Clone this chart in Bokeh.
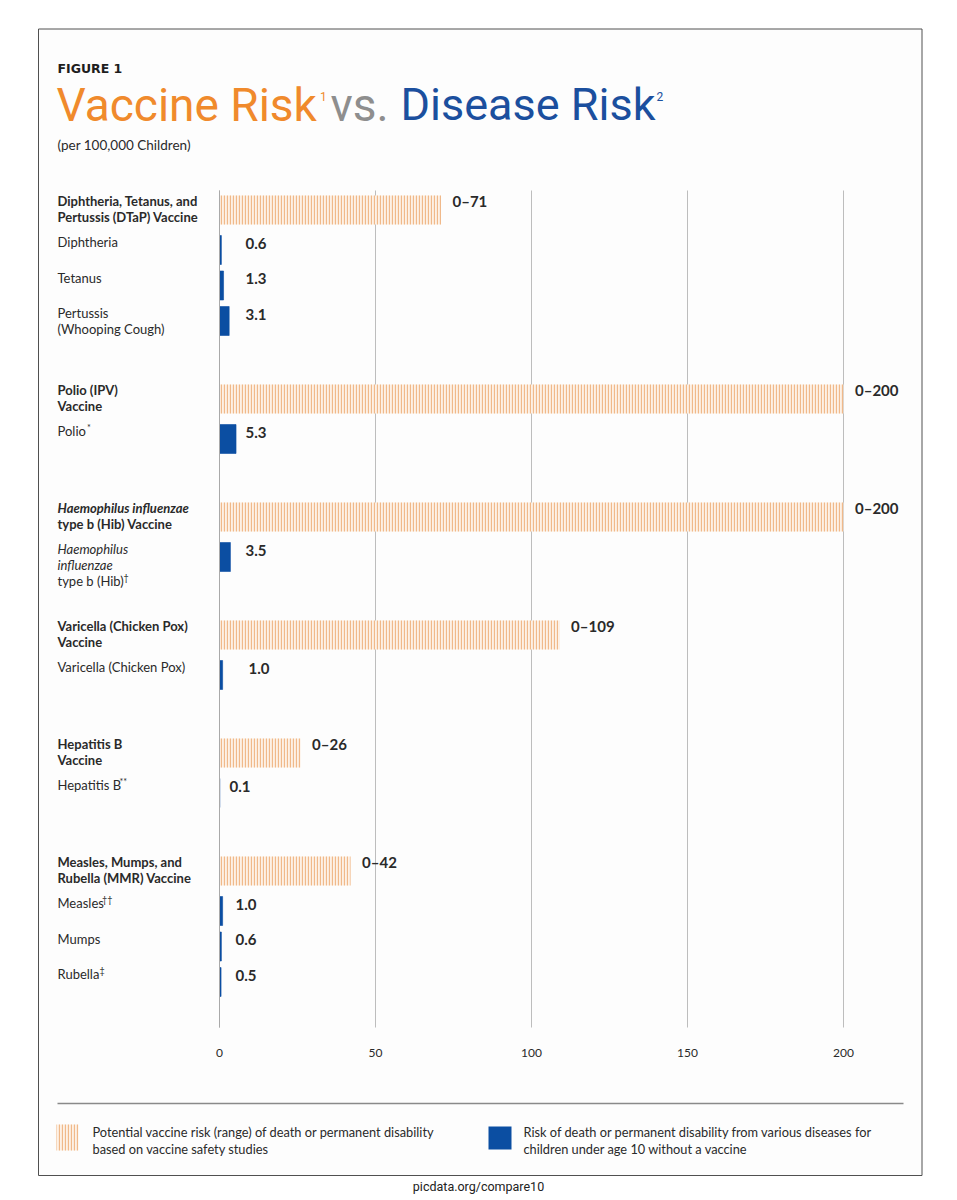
from bokeh.plotting import figure
from bokeh.models import Range1d, ColumnDataSource
from bokeh.embed import file_html
from bokeh.resources import INLINE
from bokeh.core.properties import value, field

# ---------------- data ----------------
vaccines = [
    "Diphtheria, Tetanus, and\nPertussis (DTaP) Vaccine",
    "Polio (IPV)\nVaccine",
    "Haemophilus influenzae\ntype b (Hib) Vaccine",
    "Varicella (Chicken Pox)\nVaccine",
    "Hepatitis B\nVaccine",
    "Measles, Mumps, and\nRubella (MMR) Vaccine",
]
vaccine_risk_max = [71, 200, 200, 109, 26, 42]
diseases = [
    ["Diphtheria", "Tetanus", "Pertussis\n(Whooping Cough)"],
    ["Polio"],
    ["Haemophilus\ninfluenzae\ntype b (Hib)"],
    ["Varicella (Chicken Pox)"],
    ["Hepatitis B"],
    ["Measles", "Mumps", "Rubella"],
]
disease_marks = [["", "", ""], ["*"], ["\u2020"], [""], ["**"], ["\u2020\u2020", "", "\u2021"]]
disease_risk = [[0.6, 1.3, 3.1], [5.3], [3.5], [1.0], [0.1], [1.0, 0.6, 0.5]]
x_ticks = [0, 50, 100, 150, 200]
italic_lines = {"Haemophilus influenzae", "Haemophilus", "influenzae"}

legend_vaccine = ["Potential vaccine risk (range) of death or permanent disability",
                  "based on vaccine safety studies"]
legend_disease = ["Risk of death or permanent disability from various diseases for",
                  "children under age 10 without a vaccine"]

# ---------------- layout / style ----------------
W, H = 950, 1196
ZERO_PX = 219.0
PX_PER_UNIT = 3.12


def X(px):
    return (px - ZERO_PX) / PX_PER_UNIT


BAR_H = 29
FIRST_TOP = 195
VAC_TO_DIS = 40
DIS_TO_DIS = 35.5
DIS_TO_VAC = 78
blue_label_px = [245, 245, 245, 248, 229, 235]
mark_px = [[0, 0, 0], [86.5], [123], [0], [119], [101.5, 0, 99]]

ORANGE = "#f08a2c"
GRAY = "#8e8e8e"
BLUE = "#1b4f9e"
BAR_BLUE = "#0b4ea2"
TXT = "#2a2a2a"
FONT = value("Lato")

p = figure(width=W, height=H, x_range=Range1d(X(0), X(W)),
           y_range=Range1d(H, 0), output_backend="svg", toolbar_location=None,
           x_axis_location=None, y_axis_location=None, min_border=0)
p.grid.visible = False
p.outline_line_color = None
p.background_fill_color = "white"
p.border_fill_color = "white"

# outer frame
p.quad(left=[X(38)], right=[X(921.5)], top=[28.5], bottom=[1175], fill_color="#fdfdfd",
       line_color="#505050", line_width=1)

# grid lines
p.segment(x0=x_ticks, x1=x_ticks, y0=[190] * len(x_ticks), y1=[1027] * len(x_ticks),
          line_color="#bdbdbd", line_width=1)
p.text(x=x_ticks, y=[1052] * len(x_ticks), text=[str(t) for t in x_ticks],
       text_font=FONT, text_font_size="12px", text_color=TXT, text_align="center",
       text_baseline="middle")

# compute rows
vac_top, dis_top, dis_val, dis_lab_x = [], [], [], []
lab_x, lab_y, lab_t, lab_s = [], [], [], []
mk_x, mk_y, mk_t = [], [], []
y = FIRST_TOP
for g, vname in enumerate(vaccines):
    vac_top.append(y)
    for k, line in enumerate(vname.split("\n")):
        lab_x.append(X(57)); lab_y.append(y + 5.5 + 16 * k); lab_t.append(line)
        lab_s.append("bold italic" if line in italic_lines else "bold")
    y += VAC_TO_DIS
    for d, dname in enumerate(diseases[g]):
        dis_top.append(y)
        dis_val.append(disease_risk[g][d])
        dis_lab_x.append(X(blue_label_px[g]))
        lines = dname.split("\n")
        for k, line in enumerate(lines):
            lab_x.append(X(57)); lab_y.append(y + 6.5 + 16 * k); lab_t.append(line)
            lab_s.append("italic" if line in italic_lines else "normal")
        if disease_marks[g][d]:
            mk_x.append(X(mark_px[g][d])); mk_y.append(y + 6.5 + 16 * (len(lines) - 1) - 3.5)
            mk_t.append(disease_marks[g][d])
        y += DIS_TO_DIS
    y += DIS_TO_VAC - DIS_TO_DIS

# vaccine (hatched) bars
vsrc = ColumnDataSource(dict(y=[t + BAR_H / 2 for t in vac_top], right=vaccine_risk_max,
                             lab=["0\u2013%d" % v for v in vaccine_risk_max],
                             lx=[v + 11.5 / PX_PER_UNIT for v in vaccine_risk_max],
                             ly=[t + 5.5 for t in vac_top]))
p.hbar(y="y", left=0, right="right", height=BAR_H, source=vsrc, fill_color="#fdf1e6",
       line_color=None, hatch_pattern="vertical_line", hatch_color="#f0b98a",
       hatch_scale=3.0, hatch_weight=1.3)
p.text(x="lx", y="ly", text="lab", source=vsrc, text_font=FONT, text_font_size="15px",
       text_font_style="bold", text_color=TXT, text_baseline="middle")

# disease (blue) bars
dsrc = ColumnDataSource(dict(y=[t + BAR_H / 2 for t in dis_top], right=dis_val,
                             lab=["%.1f" % v for v in dis_val], lx=dis_lab_x,
                             ly=[t + 7.5 for t in dis_top]))
p.hbar(y="y", left=0, right="right", height=BAR_H, source=dsrc, fill_color=BAR_BLUE,
       line_color=BAR_BLUE, line_width=0.6)
p.text(x="lx", y="ly", text="lab", source=dsrc, text_font=FONT, text_font_size="15px",
       text_font_style="bold", text_color=TXT, text_baseline="middle")

# zero line
p.segment(x0=[0], x1=[0], y0=[190], y1=[1027], line_color="#a9a9a9", line_width=1)

# left labels
lsrc = ColumnDataSource(dict(x=lab_x, y=lab_y, t=lab_t, s=lab_s))
p.text(x="x", y="y", text="t", source=lsrc, text_font=FONT, text_font_size="13px",
       text_font_style=field("s"), text_color=TXT, text_baseline="middle")
p.text(x=mk_x, y=mk_y, text=mk_t, text_font=FONT, text_font_size="9px", text_color=TXT,
       text_baseline="middle")

# titles
p.text(x=[X(57)], y=[68], text=["FIGURE 1"], text_font=value("DejaVu Sans"),
       text_font_size="12.5px", text_font_style="bold", text_color="#1e1e1e",
       text_baseline="middle")
p.text(x=[X(56)], y=[104], text=["Vaccine Risk"], text_font=value("Roboto"),
       text_font_size="46px", text_color=ORANGE, text_baseline="middle")
p.text(x=[X(319.5)], y=[96], text=["1"], text_font=value("Roboto"),
       text_font_size="12px", text_color=ORANGE, text_baseline="middle")
p.text(x=[X(330)], y=[104], text=["vs."], text_font=value("Roboto"),
       text_font_size="46px", text_color=GRAY, text_baseline="middle")
p.text(x=[X(400)], y=[104], text=["Disease Risk"], text_font=value("Roboto"),
       text_font_size="45px", text_color=BLUE, text_baseline="middle")
p.text(x=[X(656)], y=[96], text=["2"], text_font=value("Roboto"),
       text_font_size="12px", text_color=BLUE, text_baseline="middle")
p.text(x=[X(57)], y=[144], text=["(per 100,000 Children)"], text_font=FONT,
       text_font_size="13.5px", text_color=TXT, text_baseline="middle")

# legend
p.segment(x0=[X(57)], x1=[X(903)], y0=[1103], y1=[1103], line_color="#8a8a8a", line_width=1.5)
p.quad(left=[X(56)], right=[X(78)], top=[1124], bottom=[1150], fill_color="#fdf1e6",
       line_color=None, hatch_pattern="vertical_line", hatch_color="#f0b98a",
       hatch_scale=3.0, hatch_weight=1.3)
p.text(x=[X(92)] * 2, y=[1131, 1148], text=legend_vaccine, text_font=FONT,
       text_font_size="12.8px", text_color=TXT, text_baseline="middle")
p.quad(left=[X(488)], right=[X(511)], top=[1126], bottom=[1149], fill_color=BAR_BLUE,
       line_color=None)
p.text(x=[X(523)] * 2, y=[1131, 1148], text=legend_disease, text_font=FONT,
       text_font_size="12.8px", text_color=TXT, text_baseline="middle")

# footer
p.text(x=[X(478)], y=[1186], text=["picdata.org/compare10"], text_font=value("Roboto"),
       text_font_size="12.5px", text_color="#222222", text_align="center",
       text_baseline="middle")

open("out.html", "w").write(file_html(p, INLINE))
